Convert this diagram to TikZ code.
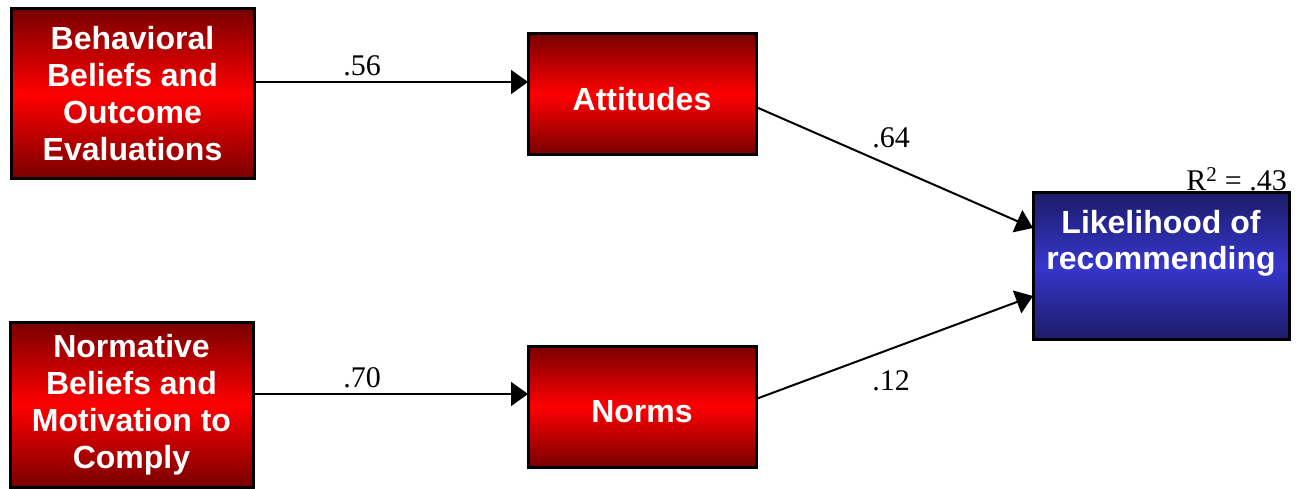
\documentclass[tikz,border=0pt]{standalone}
\usepackage{fontspec}
\setmainfont{Liberation Serif}
\newfontfamily\arialf{Liberation Sans}
\usetikzlibrary{arrows.meta}
\definecolor{rdark}{HTML}{780000}
\definecolor{rmid}{HTML}{FF0000}
\definecolor{bdark}{HTML}{1C1C68}
\definecolor{bmid}{HTML}{3636CC}
\tikzset{
  redbox/.style={draw=black, line width=3pt, top color=rdark, bottom color=rdark, middle color=rmid,
    inner sep=0pt, align=center, text=white, font=\arialf\bfseries\fontsize{32}{37}\selectfont},
  bluebox/.style={draw=black, line width=3pt, top color=bdark, bottom color=bdark, middle color=bmid,
    inner sep=0pt},
  boxtext/.style={align=center, text=white, font=\arialf\bfseries\fontsize{32}{36}\selectfont, inner sep=0pt},
  conn/.style={line width=2pt, -{Triangle[length=17pt,width=24pt]}},
  coef/.style={font=\fontsize{30}{32}\selectfont, inner sep=0pt}
}
\begin{document}
\begin{tikzpicture}[x=1pt,y=-1pt]
\useasboundingbox (0,0) rectangle (1299,489);
\node[redbox, minimum width=243pt, minimum height=170pt] (bb) at (132.5,94) {Behavioral\\Beliefs and\\Outcome\\Evaluations};
\node[redbox, minimum width=228pt, minimum height=121pt] (att) at (642,94.5) {\raisebox{-16pt}[0pt][0pt]{Attitudes}};
\node[redbox, minimum width=243pt, minimum height=165pt] (nb) at (131.5,404.5) {Normative\\Beliefs and\\Motivation to\\Comply};
\node[redbox, minimum width=228pt, minimum height=121pt] (nrm) at (642,406.5) {\raisebox{-16pt}[0pt][0pt]{Norms}};
\node[bluebox, minimum width=256pt, minimum height=146pt] (lik) at (1161,266) {};
\node[boxtext, anchor=north] (likt) at ([yshift=-19pt]lik.north) {Likelihood of\\recommending};
\node[coef, anchor=south east] (r2) at (1287,191) {R\textsuperscript{2} = .43};

\coordinate (bbout) at (254,82);
\coordinate (attin) at (528,82);
\draw[conn] (bbout) -- (attin);
\coordinate (nbout) at (253,394);
\coordinate (nrmin) at (528,394);
\draw[conn] (nbout) -- (nrmin);
\coordinate (attout) at (756,107);
\coordinate (likin1) at (1033,228);
\draw[conn] (attout) -- (likin1);
\coordinate (nrmout) at (756,399);
\coordinate (likin2) at (1033,296);
\draw[conn] (nrmout) -- (likin2);

\node[coef] (c1) at (362,66) {.56};
\node[coef] (c2) at (362,378) {.70};
\node[coef] (c3) at (891,138) {.64};
\node[coef] (c4) at (891,381) {.12};
\end{tikzpicture}
\end{document}
